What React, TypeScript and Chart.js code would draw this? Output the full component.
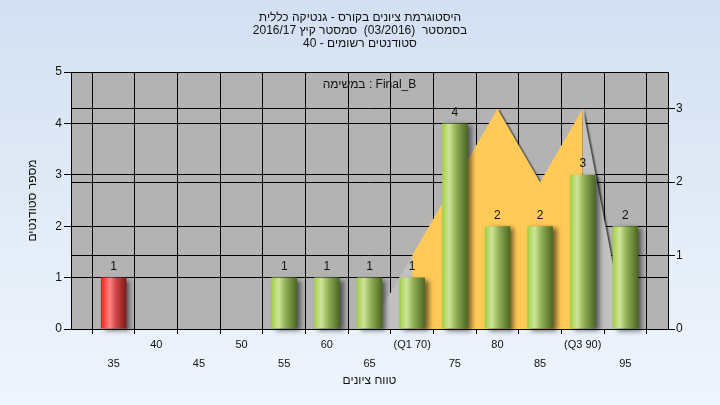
import React, { useEffect, useRef } from "react";
import { Chart, registerables } from "chart.js";

// ---------- data ----------
const TITLE_LINES = [
  "היסטוגרמת ציונים בקורס - גנטיקה כללית",
  "בסמסטר  (03/2016)  סמסטר קיץ 2016/17",
  "סטודנטים רשומים - 40",
];
const LEGEND_TEXT = "במשימה : Final_B";
const X_TITLE = "טווח ציונים";
const Y_TITLE = "מספר סטודנטים";

const GRADES = [35, 40, 45, 50, 55, 60, 65, 70, 75, 80, 85, 90, 95];
const COUNTS = [1, 0, 0, 0, 1, 1, 1, 1, 4, 2, 2, 3, 2];
const X_TICK_LABELS = ["35", "40", "45", "50", "55", "60", "65", "(Q1 70)", "75", "80", "85", "(Q3 90)", "95"];

const AREA_GRADES = [65, 70, 75, 80, 85, 90, 95];
const AREA_VALUES = [0, 1, 2, 3, 2, 3, 0];

const PASS_GRADE = 55;
const Q1 = 70;
const Q3 = 90;

const X_MIN = 30;
const X_MAX = 100;
const X_STEP = 5;
const Y_MAX = 5;
const Y1_MAX = 3.5;

// ---------- style ----------
const FONT = "'Liberation Sans', 'DejaVu Sans', Arial, sans-serif";
const BG_TOP = "#d3e0f2";
const BG_BOTTOM = "#eff5fc";
const PLOT_BG = "#b3b3b3";
const AREA_IN = "#ffca57";
const AREA_OUT = "#c1c1c1";
const TEXT = "#111111";
const BAR_PCT = 0.6;
const GREEN_STOPS: [number, string][] = [
  [0, "#a2cd45"],
  [0.28, "#cde598"],
  [0.55, "#92b055"],
  [1, "#4a6722"],
];
const RED_STOPS: [number, string][] = [
  [0, "#ff1818"],
  [0.35, "#ff8484"],
  [0.6, "#cc4444"],
  [1, "#7e1a1a"],
];

function barFill(c: any) {
  const chart = c.chart;
  const xs = chart.scales && chart.scales.x;
  const raw = c.raw;
  const fallback = raw && raw.x < PASS_GRADE ? RED_STOPS[0][1] : GREEN_STOPS[0][1];
  if (!xs || !raw || c.type !== "data") return fallback;
  const g = raw.x;
  const px = xs.getPixelForValue(g);
  const half = (Math.abs(xs.getPixelForValue(g + X_STEP) - px) * BAR_PCT) / 2;
  if (!isFinite(px) || !isFinite(half) || half <= 0) return fallback;
  const grad = chart.ctx.createLinearGradient(px - half, 0, px + half, 0);
  const stops = g < PASS_GRADE ? RED_STOPS : GREEN_STOPS;
  stops.forEach(([o, col]) => grad.addColorStop(o, col));
  return grad;
}

const decorPlugin = {
  id: "decor",
  beforeDraw(chart: any) {
    const { ctx, width, height, chartArea: a } = chart;
    ctx.save();
    const g = ctx.createLinearGradient(0, 0, 0, height);
    g.addColorStop(0, BG_TOP);
    g.addColorStop(1, BG_BOTTOM);
    ctx.fillStyle = g;
    ctx.fillRect(0, 0, width, height);
    ctx.fillStyle = PLOT_BG;
    ctx.fillRect(a.left, a.top, a.right - a.left, a.bottom - a.top);
    ctx.restore();
  },
  beforeDatasetDraw(chart: any, args: any) {
    const ctx = chart.ctx;
    ctx.save();
    if (args.meta.type === "bar") {
      ctx.shadowColor = "rgba(0,0,0,0.55)";
      ctx.shadowBlur = 5;
      ctx.shadowOffsetX = 4;
      ctx.shadowOffsetY = 2;
    } else {
      ctx.shadowColor = "rgba(0,0,0,0.6)";
      ctx.shadowBlur = 1.5;
      ctx.shadowOffsetX = 2;
      ctx.shadowOffsetY = 1;
    }
  },
  afterDatasetDraw(chart: any) {
    chart.ctx.restore();
  },
  afterDatasetsDraw(chart: any) {
    const ctx = chart.ctx;
    const meta = chart.getDatasetMeta(0);
    ctx.save();
    ctx.font = `12px ${FONT}`;
    ctx.fillStyle = TEXT;
    ctx.textAlign = "center";
    ctx.textBaseline = "middle";
    meta.data.forEach((el: any, i: number) => {
      if (!COUNTS[i]) return;
      ctx.fillText(String(COUNTS[i]), el.x, el.y - 11);
    });
    ctx.restore();
  },
  afterDraw(chart: any) {
    const { ctx, chartArea: a } = chart;
    const cx = (a.left + a.right) / 2;
    const cy = (a.top + a.bottom) / 2;
    ctx.save();
    ctx.fillStyle = TEXT;
    ctx.font = `12px ${FONT}`;
    ctx.textAlign = "center";
    ctx.textBaseline = "middle";
    ctx.fillText(LEGEND_TEXT, cx, a.top + 13);
    ctx.fillText(X_TITLE, cx, 381);
    ctx.translate(33, cy);
    ctx.rotate(-Math.PI / 2);
    ctx.fillText(Y_TITLE, 0, 0);
    ctx.restore();
  },
};

Chart.register(decorPlugin);
Chart.register(...registerables);

export default function App() {
  const ref = useRef<HTMLCanvasElement | null>(null);

  useEffect(() => {
    if (!ref.current) return;
    const chart = new Chart(ref.current, {
      data: {
        datasets: [
          {
            type: "bar",
            data: GRADES.map((g, i) => ({ x: g, y: COUNTS[i] })),
            yAxisID: "y",
            backgroundColor: barFill,
            borderWidth: 0,
            barPercentage: BAR_PCT,
            categoryPercentage: 1,
            clip: false,
            order: 0,
          } as any,
          {
            type: "line",
            data: AREA_GRADES.map((g, i) => ({ x: g, y: AREA_VALUES[i] })),
            yAxisID: "y1",
            fill: "origin",
            backgroundColor: AREA_OUT,
            borderColor: "rgba(0,0,0,0)",
            borderWidth: 0,
            pointRadius: 0,
            tension: 0,
            order: 1,
            segment: {
              backgroundColor: (c: any) =>
                c.p0.parsed.x >= Q1 && c.p1.parsed.x <= Q3 ? AREA_IN : AREA_OUT,
            },
          } as any,
        ],
      },
      options: {
        responsive: false,
        animation: false,
        events: [],
        layout: { padding: 0 },
        plugins: {
          legend: { display: false },
          tooltip: { enabled: false },
          title: {
            display: true,
            text: TITLE_LINES,
            color: TEXT,
            font: { family: FONT, size: 12, weight: "normal", lineHeight: "13px" as any },
            padding: { top: 11, bottom: 22 },
          },
        },
        scales: {
          x: {
            type: "linear",
            min: X_MIN,
            max: X_MAX,
            offset: false,
            ticks: {
              stepSize: X_STEP,
              autoSkip: false,
              maxRotation: 0,
              minRotation: 0,
              padding: 2,
              color: TEXT,
              font: { family: FONT, size: 11, lineHeight: 1.7 },
              callback: (v: any) => {
                const i = GRADES.indexOf(Math.round(Number(v)));
                if (i < 0) return "";
                return i % 2 === 0 ? ["", X_TICK_LABELS[i]] : [X_TICK_LABELS[i], ""];
              },
            },
            grid: { color: "#000", lineWidth: 1, tickLength: 5 },
            border: { color: "#000" },
            afterFit: (s: any) => {
              s.height = 76;
            },
          },
          y: {
            position: "left",
            min: 0,
            max: Y_MAX,
            ticks: {
              stepSize: 1,
              padding: 2,
              color: TEXT,
              font: { family: FONT, size: 12 },
            },
            grid: { color: "#000", lineWidth: 1, tickLength: 7 },
            border: { color: "#000" },
            afterFit: (s: any) => {
              s.width = 71;
            },
          },
          y1: {
            position: "right",
            min: 0,
            max: Y1_MAX,
            ticks: {
              stepSize: 1,
              includeBounds: false,
              padding: 1,
              color: TEXT,
              font: { family: FONT, size: 12 },
            },
            afterBuildTicks: (s: any) => {
              s.ticks = s.ticks.filter((t: any) => Number.isInteger(t.value));
            },
            grid: { color: "#000", lineWidth: 1, tickLength: 7, drawOnChartArea: true },
            border: { color: "#000" },
            afterFit: (s: any) => {
              s.width = 52;
            },
          },
        },
      } as any,
    });
    return () => chart.destroy();
  }, []);

  return (
    <div style={{ position: "fixed", left: 0, top: 0, width: 720, height: 405 }}>
      <canvas ref={ref} width={720} height={405} style={{ display: "block" }} />
    </div>
  );
}
